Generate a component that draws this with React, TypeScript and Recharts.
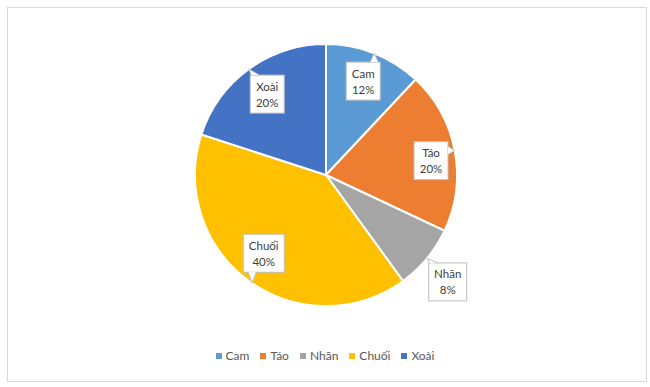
import { PieChart, Pie, Cell, Legend } from 'recharts';

// Fruit share (percent)
const fruits = ['Cam', 'Táo', 'Nhãn', 'Chuối', 'Xoài'];
const shares = [12, 20, 8, 40, 20];
const colors = ['#5B9BD5', '#ED7D31', '#A5A5A5', '#FFC000', '#4472C4'];

// callout placement (Excel "best fit" look): distance from centre and angle nudges, degrees clockwise
const labelRadius = [101, 106, 162, 100, 100];
const labelShift = [0, 3, 1.7, 2.5, 0];
const pointerShift = [0, 0, 0, -1.7, 0];

const FONT = '11.5px Lato';
const TEXT = '#404040';

const data = fruits.map((name, i) => ({ name, value: shares[i] }));

let ctx: CanvasRenderingContext2D | null = null;
function textWidth(s: string) {
  if (!ctx) ctx = document.createElement('canvas').getContext('2d');
  if (!ctx) return s.length * 6;
  ctx.font = FONT;
  return ctx.measureText(s).width;
}

const clamp = (v: number, lo: number, hi: number) => Math.max(lo, Math.min(hi, v));
const RAD = Math.PI / 180;

function Callout(props: any) {
  const { cx, cy, midAngle, outerRadius, index, name, value } = props;
  // recharts angle -> clockwise from 12 o'clock
  const theta = 90 - midAngle;
  const a = (theta + labelShift[index]) * RAD;
  const r = labelRadius[index];
  const bx = cx + r * Math.sin(a);
  const by = cy - r * Math.cos(a);
  const pa = (theta + pointerShift[index]) * RAD;
  const tx = cx + outerRadius * Math.sin(pa);
  const ty = cy - outerRadius * Math.cos(pa);

  const lines = [name, `${value}%`];
  const w = Math.round(Math.max(...lines.map(textWidth)) + 11);
  const h = 38;
  const left = bx - w / 2;
  const top = by - h / 2;
  const right = left + w;
  const bottom = top + h;

  // wedge towards target on the nearest edge
  const dx = (tx - bx) / (w / 2);
  const dy = (ty - by) / (h / 2);
  let base: [number, number][];
  if (Math.abs(dx) > Math.abs(dy)) {
    const ey = clamp(ty, top + 5, bottom - 5);
    const ex = dx > 0 ? right : left;
    base = [[ex, ey - 4], [ex, ey + 4]];
  } else {
    const ex = clamp(tx, left + 5, right - 5);
    const ey = dy > 0 ? bottom : top;
    base = [[ex - 4, ey], [ex + 4, ey]];
  }
  const wedge = `M${base[0][0]},${base[0][1]} L${tx},${ty} L${base[1][0]},${base[1][1]}`;

  return (
    <g>
      <rect x={left} y={top} width={w} height={h} fill="#fff" stroke="#bfbfbf" strokeWidth={1} />
      <path d={wedge + ' Z'} fill="#fff" stroke="none" />
      <path d={wedge} fill="none" stroke="#bfbfbf" strokeWidth={1} />
      {lines.map((t, k) => (
        <text
          key={k}
          x={bx}
          y={by - 8 + k * 16}
          textAnchor="middle"
          dominantBaseline="central"
          style={{ font: FONT }}
          fill={TEXT}
        >
          {t}
        </text>
      ))}
    </g>
  );
}

function renderLegend() {
  return (
    <div style={{ display: 'flex', justifyContent: 'center', gap: 11, font: '12px Lato', color: '#595959' }}>
      {fruits.map((f, i) => (
        <span key={f} style={{ display: 'flex', alignItems: 'center' }}>
          <span style={{ width: 6, height: 6, background: colors[i], marginRight: 4, display: 'inline-block' }} />
          {f}
        </span>
      ))}
    </div>
  );
}

export default function App() {
  return (
    <div style={{ position: 'absolute', left: 0, top: 0, width: 650, height: 387, background: '#fff' }}>
      <div
        style={{
          position: 'absolute', left: 7, top: 7, width: 638, height: 373,
          border: '1px solid #d9d9d9',
        }}
      />
      <div style={{ position: 'absolute', left: 0, top: 0 }}>
        <PieChart width={650} height={387} margin={{ top: 0, right: 0, bottom: 0, left: 0 }}>
          <Pie
            data={data}
            dataKey="value"
            nameKey="name"
            cx={326}
            cy={175}
            outerRadius={131}
            startAngle={90}
            endAngle={-270}
            stroke="#fff"
            strokeWidth={2}
            label={Callout}
            labelLine={false}
            isAnimationActive={false}
          >
            {data.map((d, i) => (
              <Cell key={d.name} fill={colors[i]} />
            ))}
          </Pie>
          <Legend
            content={renderLegend}
            wrapperStyle={{ position: 'absolute', top: 348, left: 0, width: 650, height: 16 }}
          />
        </PieChart>
      </div>
    </div>
  );
}
